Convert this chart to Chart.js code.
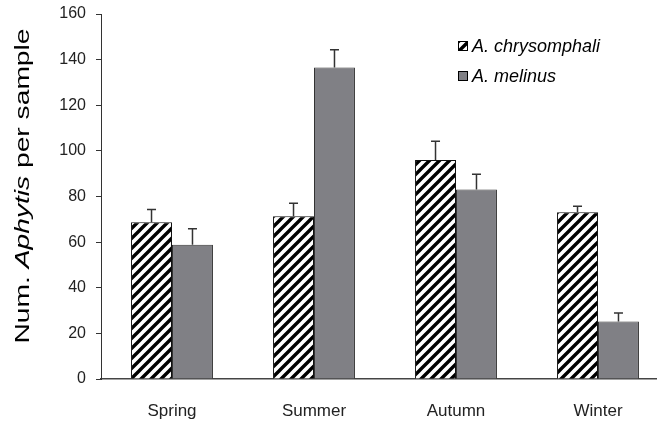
<!DOCTYPE html>
<html>
<head>
<meta charset="utf-8">
<script src="https://cdn.jsdelivr.net/npm/chart.js@4.4.0/dist/chart.umd.min.js"></script>
<style>
  body { margin: 0; background: #fff; }
  #wrap { width: 657px; height: 421px; overflow: hidden; }
</style>
</head>
<body>
<div id="wrap"><canvas id="myChart" width="680" height="421"></canvas></div>
<script>
const seasons = ['Spring', 'Summer', 'Autumn', 'Winter'];
const chrysomphali = [68.7, 71.3, 96.0, 73.1];
const chrysomphaliErr = [5.6, 5.7, 8.2, 2.6];
const melinus = [58.9, 136.6, 83.1, 25.2];
const melinusErr = [7.0, 7.7, 6.6, 3.7];
const errors = [chrysomphaliErr, melinusErr];

const FONT = '"Liberation Sans", Arial, sans-serif';

// diagonal hatch pattern
function makeHatch() {
    const n = 10;
    const p = document.createElement('canvas');
    p.width = n;
    p.height = n;
    const c = p.getContext('2d');
    c.fillStyle = '#fff';
    c.fillRect(0, 0, n, n);
    c.strokeStyle = '#000';
    c.lineWidth = 3.4;
    c.beginPath();
    c.moveTo(-2, n + 2); c.lineTo(n + 2, -2);
    c.moveTo(-n - 2, n + 2); c.lineTo(2, -2);
    c.moveTo(-2, 2 * n + 2); c.lineTo(2 * n + 2, -2);
    c.stroke();
    return c.createPattern(p, 'repeat');
}

const ctx = document.getElementById('myChart').getContext('2d');
const hatch = makeHatch();
const grey = 'rgb(128,128,133)';

// upper error bars
const errorBars = {
    id: 'errorBars',
    afterDatasetsDraw(chart) {
        const c = chart.ctx;
        const y = chart.scales.y;
        c.save();
        c.strokeStyle = '#333';
        c.lineWidth = 1.5;
        chart.data.datasets.forEach((ds, i) => {
            const meta = chart.getDatasetMeta(i);
            meta.data.forEach((bar, j) => {
                const top = y.getPixelForValue(ds.data[j] + errors[i][j]);
                c.beginPath();
                c.moveTo(bar.x, bar.y);
                c.lineTo(bar.x, top);
                c.moveTo(bar.x - 4.5, top);
                c.lineTo(bar.x + 4.5, top);
                c.stroke();
            });
        });
        c.restore();
    }
};

// axis title with italic genus and the legend
const labels = {
    id: 'labels',
    afterDraw(chart) {
        const c = chart.ctx;
        c.save();
        // y title
        const parts = [['Num. ', 'normal'], ['Aphytis', 'italic'], [' per sample', 'normal']];
        let total = 0;
        const widths = parts.map(p => {
            c.font = p[1] + ' 21px ' + FONT;
            const w = c.measureText(p[0]).width;
            total += w;
            return w;
        });
        c.translate(23, 186);
        c.rotate(-Math.PI / 2);
        c.scale(315 / total, 1);
        c.fillStyle = '#000';
        c.textBaseline = 'middle';
        let x = -total / 2;
        parts.forEach((p, i) => {
            c.font = p[1] + ' 21px ' + FONT;
            c.fillText(p[0], x, 0);
            x += widths[i];
        });
        c.restore();

        // legend
        c.save();
        const items = [
            { text: 'A. chrysomphali', fill: hatch, y: 46 },
            { text: 'A. melinus', fill: grey, y: 76 }
        ];
        c.font = 'italic 18px ' + FONT;
        c.textBaseline = 'middle';
        items.forEach(it => {
            c.fillStyle = it.fill;
            c.fillRect(458, it.y - 5, 10, 10);
            c.strokeStyle = '#000';
            c.lineWidth = 1;
            c.strokeRect(458.5, it.y - 4.5, 9, 9);
            c.fillStyle = '#000';
            c.fillText(it.text, 472, it.y + 1);
        });
        c.restore();
    }
};

const myChart = new Chart(ctx, {
    type: 'bar',
    data: {
        labels: seasons,
        datasets: [
            {
                label: 'A. chrysomphali',
                data: chrysomphali,
                backgroundColor: hatch,
                borderColor: '#111',
                borderWidth: 1
            },
            {
                label: 'A. melinus',
                data: melinus,
                backgroundColor: grey,
                borderColor: '#333',
                borderWidth: 1
            }
        ]
    },
    options: {
        responsive: false,
        animation: false,
        layout: { padding: { left: 0, right: 11, top: 14, bottom: 0 } },
        datasets: {
            bar: { barPercentage: 1, categoryPercentage: 0.577 }
        },
        plugins: {
            legend: { display: false },
            tooltip: { enabled: false }
        },
        scales: {
            x: {
                grid: { display: true, drawOnChartArea: false, drawTicks: false },
                border: { color: '#444', width: 1.5 },
                ticks: { color: '#222', font: { family: FONT, size: 17 }, padding: 22 },
                afterFit: s => { s.height = 42; }
            },
            y: {
                min: 0,
                max: 160,
                ticks: { stepSize: 20, color: '#222', font: { family: FONT, size: 16 }, padding: 10 },
                grid: { drawOnChartArea: false, drawTicks: true, tickLength: 5, color: '#333' },
                border: { color: '#333', width: 1 },
                afterFit: s => { s.width = 101; s.paddingTop = 0; s.paddingBottom = 0; }
            }
        }
    },
    plugins: [errorBars, labels]
});
</script>
</body>
</html>
